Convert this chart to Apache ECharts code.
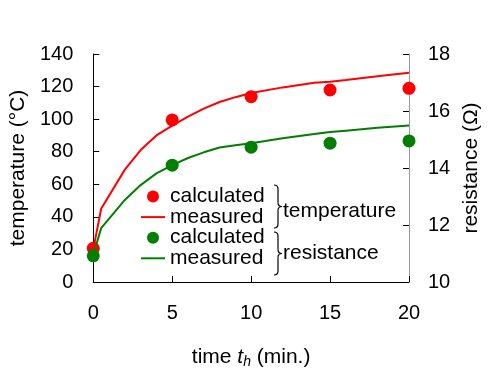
<!DOCTYPE html>
<html>
<head>
<meta charset="utf-8">
<script src="https://cdn.jsdelivr.net/npm/echarts@6/dist/echarts.min.js"></script>
<style>html,body{margin:0;padding:0;background:#fff;}#c{width:500px;height:378px;}</style>
</head>
<body>
<div id="c"></div>
<script>
// Data
var calcTimes = [0, 5, 10, 15, 20];
var tempCalculated = [20.7, 99.5, 113.8, 117.9, 118.9];
var resCalculated = [10.92, 14.1, 14.73, 14.87, 14.95];
var measTimes = [0, 0.5, 2, 3, 4, 5, 6, 7, 8, 9, 10, 12, 14, 15, 16, 18, 20];
var tempMeasured = [20, 45, 69, 81, 90, 96, 101.5, 106.5, 110.5, 113.5, 116, 119.5, 122.3, 123, 124, 126.3, 128.5];
var resMeasured = [10.95, 11.89, 12.88, 13.4, 13.81, 14.1, 14.35, 14.55, 14.72, 14.8, 14.87, 15.04, 15.19, 15.26, 15.31, 15.41, 15.49];
var xTicks = {min: 0, max: 20, interval: 5};
var tempTicks = {min: 0, max: 140, interval: 20};
var resTicks = {min: 10, max: 18, interval: 2};
var legendLabels = {tc: 'calculated', tm: 'measured', rc: 'calculated', rm: 'measured'};

function pairs(xs, ys) { return xs.map(function (x, i) { return [x, ys[i]]; }); }

var FONT = "'Liberation Sans', Arial, sans-serif";
var RED = '#ff0000', GREEN = '#007f00';
var LINE_ICON = 'path://M0,0 L24,0 L24,2 L0,2 Z';

function brace(x, top, bottom) {
  var mid = (top + bottom) / 2, xs = x + 4, xp = x + 8, r = 4;
  var st = {stroke: '#000', lineWidth: 1.2, fill: null};
  return [
    {type: 'bezierCurve', silent: true, shape: {x1: x, y1: top, x2: xs, y2: top + r, cpx1: xs, cpy1: top}, style: st},
    {type: 'line', silent: true, shape: {x1: xs, y1: top + r, x2: xs, y2: mid - r}, style: st},
    {type: 'bezierCurve', silent: true, shape: {x1: xs, y1: mid - r, x2: xp, y2: mid, cpx1: xs, cpy1: mid}, style: st},
    {type: 'bezierCurve', silent: true, shape: {x1: xp, y1: mid, x2: xs, y2: mid + r, cpx1: xs, cpy1: mid}, style: st},
    {type: 'line', silent: true, shape: {x1: xs, y1: mid + r, x2: xs, y2: bottom - r}, style: st},
    {type: 'bezierCurve', silent: true, shape: {x1: xs, y1: bottom - r, x2: x, y2: bottom, cpx1: xs, cpy1: bottom}, style: st}
  ];
}

var chart = echarts.init(document.getElementById('c'), null, {renderer: 'canvas'});
chart.setOption({
  animation: false,
  backgroundColor: '#fff',
  textStyle: {fontFamily: FONT, color: '#000'},
  grid: {left: 93, right: 91, top: 54, bottom: 96, containLabel: false},
  xAxis: {
    type: 'value', min: xTicks.min, max: xTicks.max, interval: xTicks.interval,
    name: '{a|time }{i|t}{s|h}{a| (min.)}', nameLocation: 'middle', nameGap: 63,
    nameTextStyle: {
      rich: {
        a: {fontSize: 21, fontFamily: FONT, color: '#000', lineHeight: 24, verticalAlign: 'middle'},
        i: {fontSize: 21, fontFamily: FONT, fontStyle: 'italic', color: '#000', lineHeight: 24, verticalAlign: 'middle'},
        s: {fontSize: 14, fontFamily: FONT, fontStyle: 'italic', color: '#000', lineHeight: 13, verticalAlign: 'bottom'}
      }
    },
    axisLine: {show: true, lineStyle: {color: '#000', width: 1}},
    axisTick: {show: true, inside: true, length: 6, lineStyle: {color: '#000'}},
    axisLabel: {fontSize: 20, color: '#000', margin: 21, fontFamily: FONT},
    splitLine: {show: false}
  },
  yAxis: [{
    type: 'value', min: tempTicks.min, max: tempTicks.max, interval: tempTicks.interval,
    name: 'temperature (°C)', nameLocation: 'middle', nameRotate: 90, nameGap: 49,
    nameTextStyle: {fontSize: 21, color: '#000', fontFamily: FONT},
    axisLine: {show: true, lineStyle: {color: '#000', width: 1}},
    axisTick: {show: true, inside: true, length: 6, lineStyle: {color: '#000'}},
    axisLabel: {fontSize: 20, color: '#000', margin: 20, fontFamily: FONT},
    splitLine: {show: false}
  }, {
    type: 'value', position: 'right', min: resTicks.min, max: resTicks.max, interval: resTicks.interval,
    name: 'resistance (Ω)', nameLocation: 'middle', nameRotate: 90, nameGap: 50,
    nameTextStyle: {fontSize: 21, color: '#000', fontFamily: FONT},
    axisLine: {show: true, lineStyle: {color: '#999', width: 1}},
    axisTick: {show: true, inside: true, length: 6, lineStyle: {color: '#000'}},
    axisLabel: {fontSize: 20, color: '#000', margin: 19, fontFamily: FONT},
    splitLine: {show: false}
  }],
  legend: {
    orient: 'vertical', left: 141, top: 186, padding: 0,
    itemWidth: 24, itemHeight: 12, itemGap: -0.4, selectedMode: false,
    textStyle: {fontSize: 21, color: '#000', fontFamily: FONT, lineHeight: 20},
    formatter: function (n) { return legendLabels[n]; },
    data: [
      {name: 'tc', icon: 'circle', itemStyle: {color: RED, opacity: 1}},
      {name: 'tm', icon: LINE_ICON, itemStyle: {color: RED, opacity: 1}},
      {name: 'rc', icon: 'circle', itemStyle: {color: GREEN, opacity: 1}},
      {name: 'rm', icon: LINE_ICON, itemStyle: {color: GREEN, opacity: 1}}
    ]
  },
  graphic: brace(274, 185, 228).concat(brace(274, 232, 275)).concat([
    {type: 'text', x: 283, y: 211, silent: true, style: {text: 'temperature', fontSize: 21, fontFamily: FONT, fill: '#000', verticalAlign: 'middle'}},
    {type: 'text', x: 283, y: 253, silent: true, style: {text: 'resistance', fontSize: 21, fontFamily: FONT, fill: '#000', verticalAlign: 'middle'}}
  ]),
  series: [
    {name: 'tm', type: 'line', yAxisIndex: 0, data: pairs(measTimes, tempMeasured), symbol: 'none',
      lineStyle: {color: RED, width: 2}, itemStyle: {color: RED}, z: 2},
    {name: 'tc', type: 'scatter', yAxisIndex: 0, data: pairs(calcTimes, tempCalculated), symbol: 'circle', symbolSize: 13,
      itemStyle: {color: RED, opacity: 1}, z: 3},
    {name: 'rm', type: 'line', yAxisIndex: 1, data: pairs(measTimes, resMeasured), symbol: 'none',
      lineStyle: {color: GREEN, width: 2}, itemStyle: {color: GREEN}, z: 4},
    {name: 'rc', type: 'scatter', yAxisIndex: 1, data: pairs(calcTimes, resCalculated), symbol: 'circle', symbolSize: 13,
      itemStyle: {color: GREEN, opacity: 1}, z: 5}
  ]
});
</script>
</body>
</html>
